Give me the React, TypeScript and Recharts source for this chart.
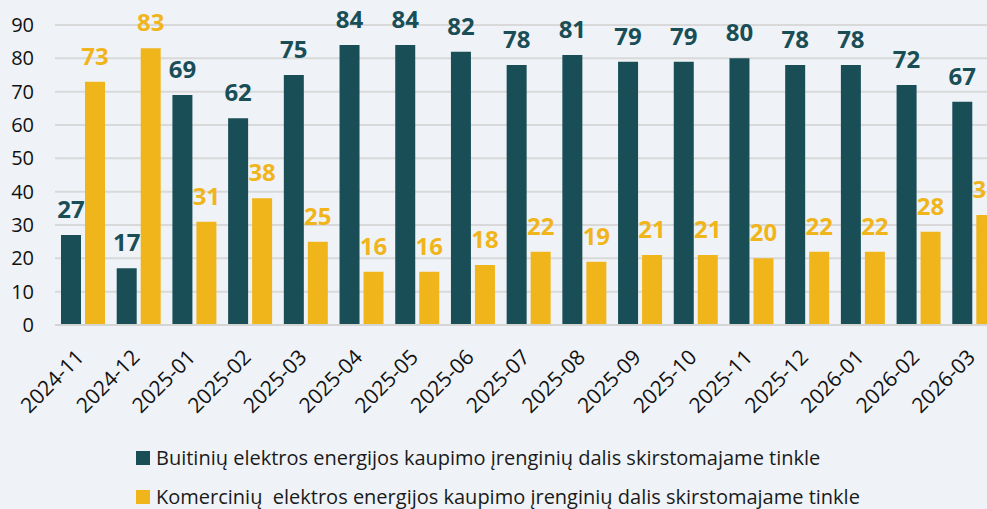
import { BarChart, Bar, XAxis, YAxis, CartesianGrid, LabelList } from 'recharts';

const months = [
    '2024-11', '2024-12', '2025-01', '2025-02', '2025-03', '2025-04', '2025-05', '2025-06', '2025-07',
    '2025-08', '2025-09', '2025-10', '2025-11', '2025-12', '2026-01', '2026-02', '2026-03'
];
const buitiniu = [27, 17, 69, 62, 75, 84, 84, 82, 78, 81, 79, 79, 80, 78, 78, 72, 67];
const komerciniu = [73, 83, 31, 38, 25, 16, 16, 18, 22, 19, 21, 21, 20, 22, 22, 28, 33];
const yTicks = [0, 10, 20, 30, 40, 50, 60, 70, 80, 90];

const seriesNames = [
    'Buitinių elektros energijos kaupimo įrenginių dalis skirstomajame tinkle',
    'Komercinių  elektros energijos kaupimo įrenginių dalis skirstomajame tinkle',
];

const DARK = '#1a4e56';
const YELLOW = '#f1b51c';
const FONT = '"Open Sans", sans-serif';

const data = months.map((m, i) => ({ month: m, buit: buitiniu[i], kom: komerciniu[i] }));

const MonthTick = ({ x, y, payload }: any) => (
    <g transform={`translate(${x - 8},${y + 15})`}>
        <text x={0} y={0} dy="0.7em" textAnchor="end" transform="rotate(-45)" fill="#111" fontSize={21} fontFamily={FONT}>
            {payload.value}
        </text>
    </g>
);

export default function App() {
    return (
        <div style={{ position: 'fixed', top: 0, left: 0, width: 987, height: 509, overflow: 'hidden', background: '#eff3f7', fontFamily: FONT }}>
            <BarChart width={1002} height={430} data={data} margin={{ top: 25, right: 0, bottom: 0, left: 0 }} barSize={20} barGap={4}>
                <CartesianGrid vertical={false} stroke="#d9d9d9" strokeWidth={2} />
                <XAxis dataKey="month" height={105} interval={0} tickLine={false} axisLine={{ stroke: '#d4d4d4', strokeWidth: 2 }} tick={<MonthTick />} />
                <YAxis width={55} domain={[0, 90]} ticks={yTicks} axisLine={false} tickLine={false} tickMargin={15}
                    tick={{ fill: '#111', fontSize: 20, fontFamily: FONT }} />
                <Bar dataKey="buit" fill={DARK} isAnimationActive={false}>
                    <LabelList dataKey="buit" position="top" offset={17} fill={DARK} fontSize={24} fontWeight={700} fontFamily={FONT} />
                </Bar>
                <Bar dataKey="kom" fill={YELLOW} isAnimationActive={false}>
                    <LabelList dataKey="kom" position="top" offset={17} fill={YELLOW} fontSize={24} fontWeight={700} fontFamily={FONT} />
                </Bar>
            </BarChart>

            {/* legenda */}
            <div style={{ position: 'absolute', left: 136, top: 438, fontSize: 20, color: '#1a1a1a', lineHeight: '39px', whiteSpace: 'pre' }}>
                {seriesNames.map((name, i) => (
                    <div key={name} style={{ display: 'flex', alignItems: 'center' }}>
                        <span style={{ display: 'inline-block', width: 14, height: 14, background: i === 0 ? DARK : YELLOW, marginRight: 6 }} />
                        {name}
                    </div>
                ))}
            </div>
        </div>
    )
}
